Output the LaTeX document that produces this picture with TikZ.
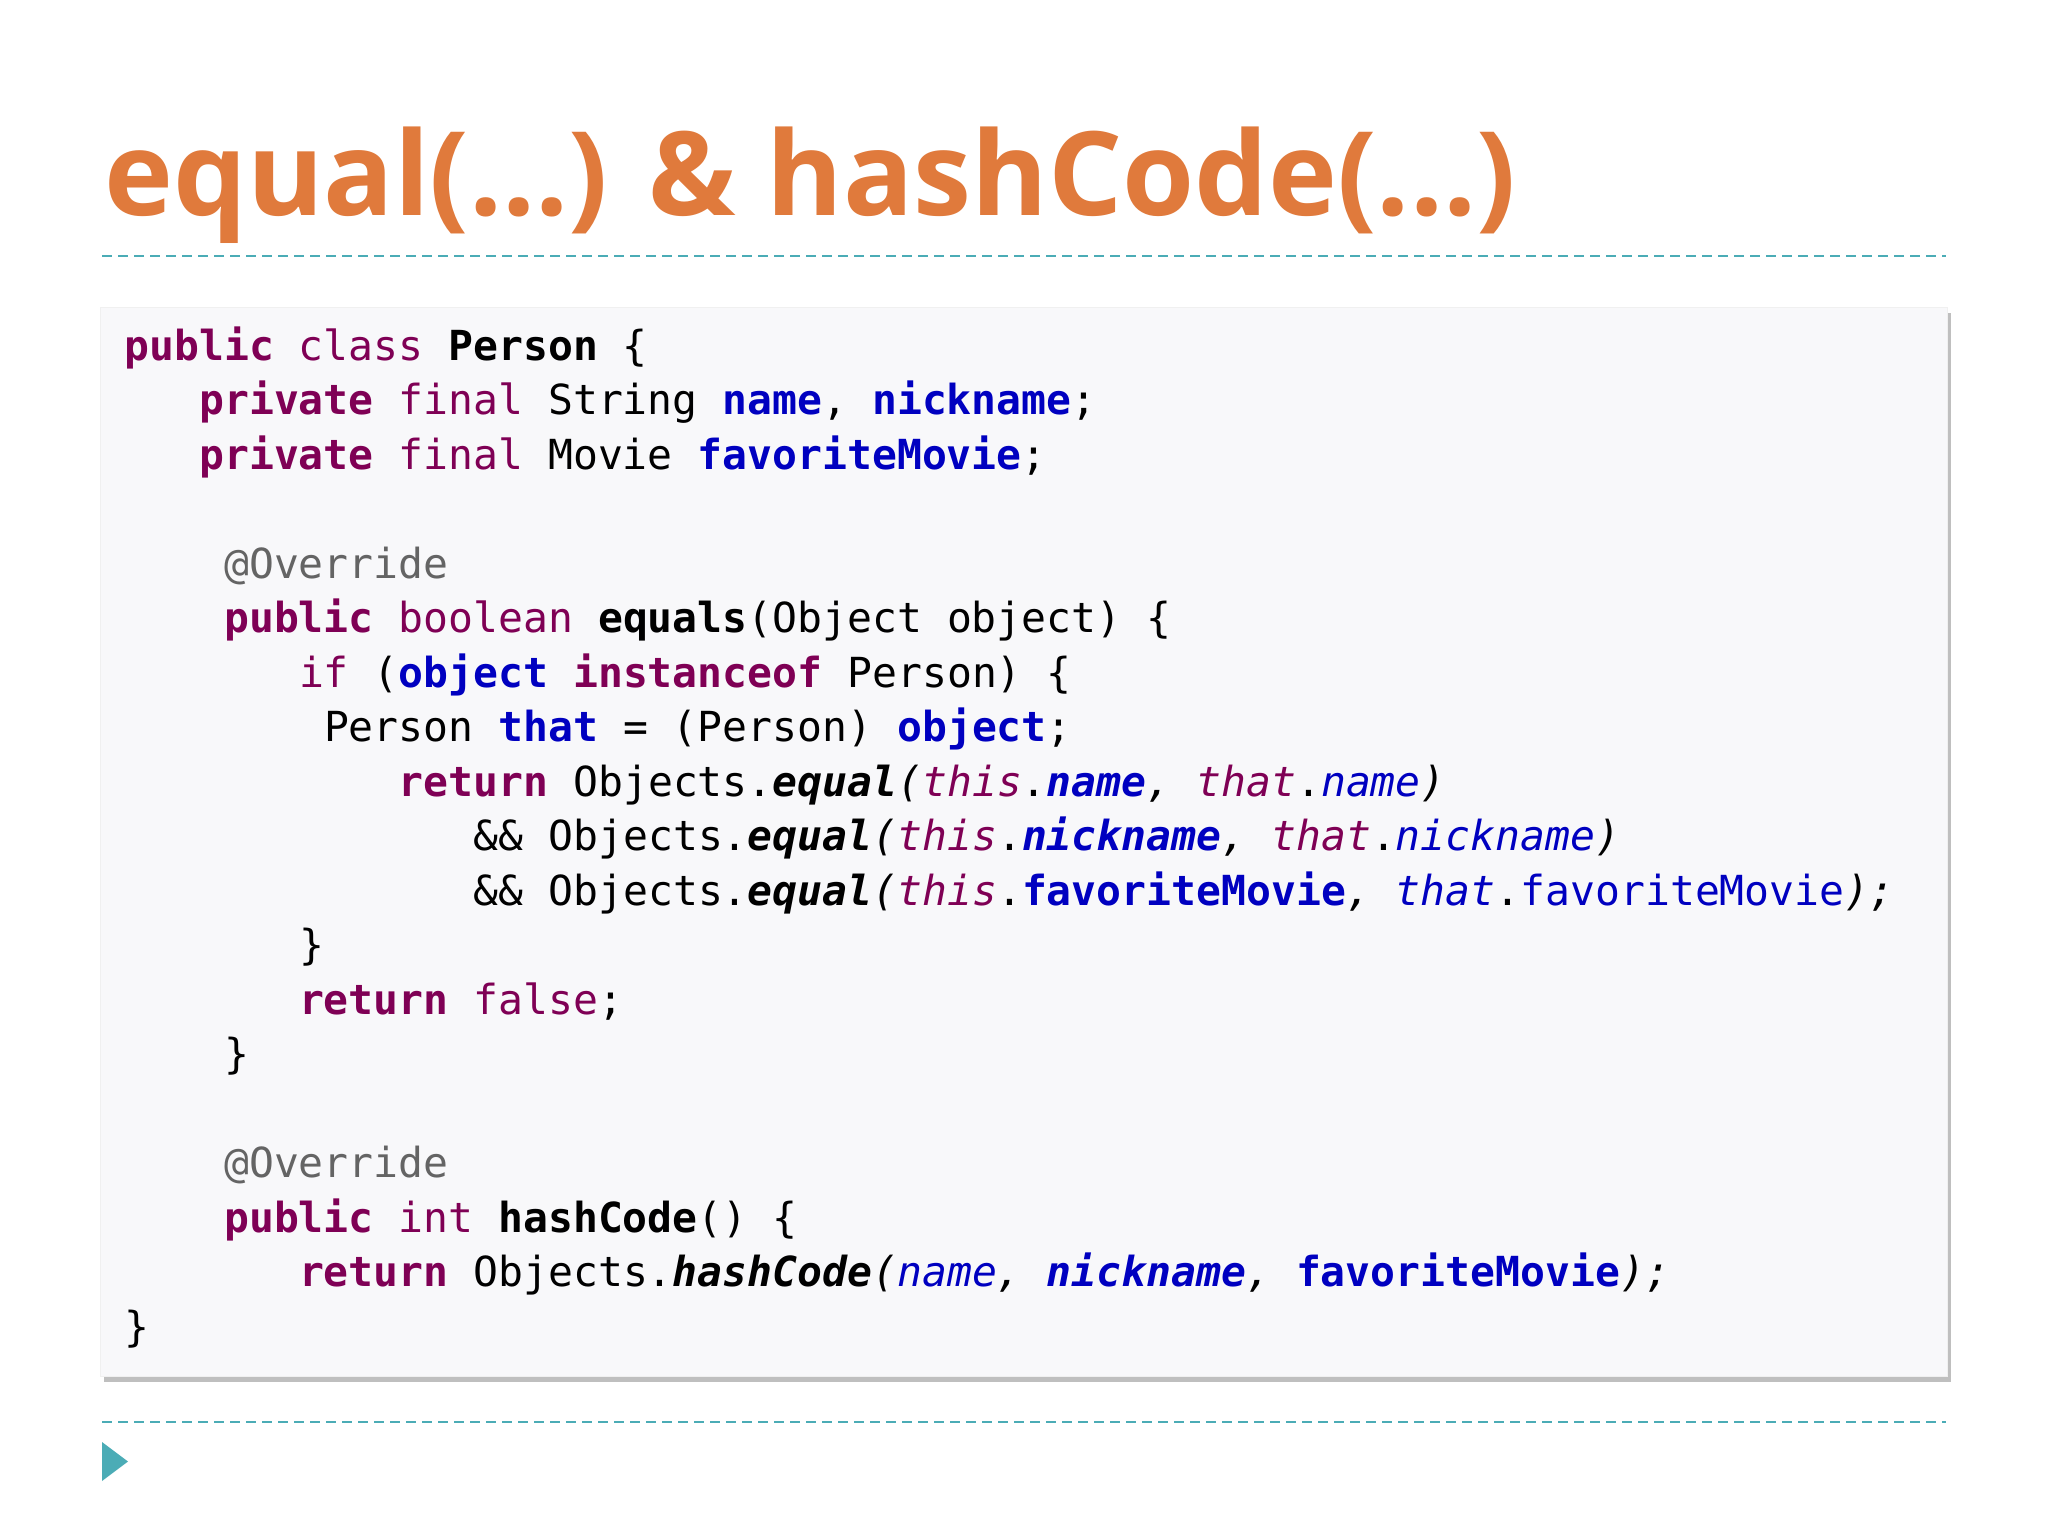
\documentclass[tikz,border=0pt]{standalone}
\usepackage{fontspec}
\setmainfont{Open Sans}
\setmonofont{DejaVu Sans Mono}
\usetikzlibrary{shadows}
\definecolor{ttl}{HTML}{E07A3C}
\definecolor{teal}{HTML}{4BACB6}
\definecolor{kwc}{HTML}{7F0055}
\definecolor{fdc}{HTML}{0000C0}
\definecolor{grc}{HTML}{646464}
\definecolor{boxc}{HTML}{F8F8FA}
\newcommand{\cKw}[1]{\textcolor{kwc}{\bfseries #1}}
\newcommand{\cKn}[1]{\textcolor{kwc}{#1}}
\newcommand{\cFb}[1]{\textcolor{fdc}{\bfseries #1}}
\newcommand{\cFi}[1]{\textcolor{fdc}{\itshape #1}}
\newcommand{\cFbi}[1]{\textcolor{fdc}{\bfseries\itshape #1}}
\newcommand{\cKi}[1]{\textcolor{kwc}{\itshape #1}}
\newcommand{\cMi}[1]{{\bfseries\itshape #1}}
\newcommand{\cIt}[1]{{\itshape #1}}
\begin{document}
\begin{tikzpicture}[x=0.5pt,y=-0.5pt,
  code/.style={anchor=base west,inner sep=0pt,font=\ttfamily\fontsize{20.7}{24}\selectfont},
  sep/.style={draw=teal,dashed,line width=1pt,dash pattern=on 5pt off 3pt}]
\useasboundingbox (0,0) rectangle (2048,1536);
\fill[white] (0,0) rectangle (2048,1536);
\node[anchor=base west,inner sep=0pt,text=ttl,font=\bfseries\fontsize{58.3}{60}\selectfont] (title) at (104,215) {equal(...) \& hashCode(...)};
\coordinate (d1a) at (102,256); \coordinate (d1b) at (1946,256);
\draw[sep] (d1a) -- (d1b);
\node[draw=gray!12,line width=0.5pt,fill=boxc,drop shadow={shadow xshift=1.5pt,shadow yshift=-2.5pt,opacity=0.5},minimum width=923.5pt,minimum height=534.5pt,inner sep=0pt,anchor=north west] (box) at (100,307) {};
\coordinate (d2a) at (102,1422); \coordinate (d2b) at (1946,1422);
\draw[sep] (d2a) -- (d2b);
\coordinate (t1) at (102,1442); \coordinate (t2) at (128,1461.5); \coordinate (t3) at (102,1481);
\fill[teal] (t1) -- (t2) -- (t3) -- cycle;
\def\cx#1{124+24.95*#1}
\def\cy#1{360+54.5*#1}
\node[code] (l0) at ({\cx{0}},{\cy{0}}) {\cKw{public} \cKn{class} \textbf{Person} \{};
\node[code] (l1) at ({\cx{3}},{\cy{1}}) {\cKw{private} \cKn{final} String \cFb{name}, \cFb{nickname};};
\node[code] (l2) at ({\cx{3}},{\cy{2}}) {\cKw{private} \cKn{final} Movie \cFb{favoriteMovie};};
\node[code,text=grc] (l4) at ({\cx{4}},{\cy{4}}) {@Override};
\node[code] (l5) at ({\cx{4}},{\cy{5}}) {\cKw{public} \cKn{boolean} \textbf{equals}(Object object) \{};
\node[code] (l6) at ({\cx{7}},{\cy{6}}) {\cKn{if} (\cFb{object} \cKw{instanceof} Person) \{};
\node[code] (l7) at ({\cx{8}},{\cy{7}}) {Person \cFb{that} = (Person) \cFb{object};};
\node[code] (l8) at ({\cx{11}},{\cy{8}}) {\cKw{return} Objects.\cMi{equal}\cIt{(}\cKi{this}.\cFbi{name}\cIt{, }\cKi{that}.\cFi{name}\cIt{)}};
\node[code] (l9) at ({\cx{14}},{\cy{9}}) {\&\& Objects.\cMi{equal}\cIt{(}\cKi{this}.\cFbi{nickname}\cIt{, }\cKi{that}.\cFi{nickname}\cIt{)}};
\node[code] (l10) at ({\cx{14}},{\cy{10}}) {\&\& Objects.\cMi{equal}\cIt{(}\cKi{this}.\cFb{favoriteMovie}\cIt{, }\cFi{that}.\textcolor{fdc}{favoriteMovie}\cIt{);}};
\node[code] (l11) at ({\cx{7}},{\cy{11}}) {\}};
\node[code] (l12) at ({\cx{7}},{\cy{12}}) {\cKw{return} \cKn{false};};
\node[code] (l13) at ({\cx{4}},{\cy{13}}) {\}};
\node[code,text=grc] (l15) at ({\cx{4}},{\cy{15}}) {@Override};
\node[code] (l16) at ({\cx{4}},{\cy{16}}) {\cKw{public} \cKn{int} \textbf{hashCode}() \{};
\node[code] (l17) at ({\cx{7}},{\cy{17}}) {\cKw{return} Objects.\cMi{hashCode}\cIt{(}\cFi{name}\cIt{, }\cFbi{nickname}\cIt{, }\cFb{favoriteMovie}\cIt{);}};
\node[code] (l18) at ({\cx{0}},{\cy{18}}) {\}};
\end{tikzpicture}
\end{document}
